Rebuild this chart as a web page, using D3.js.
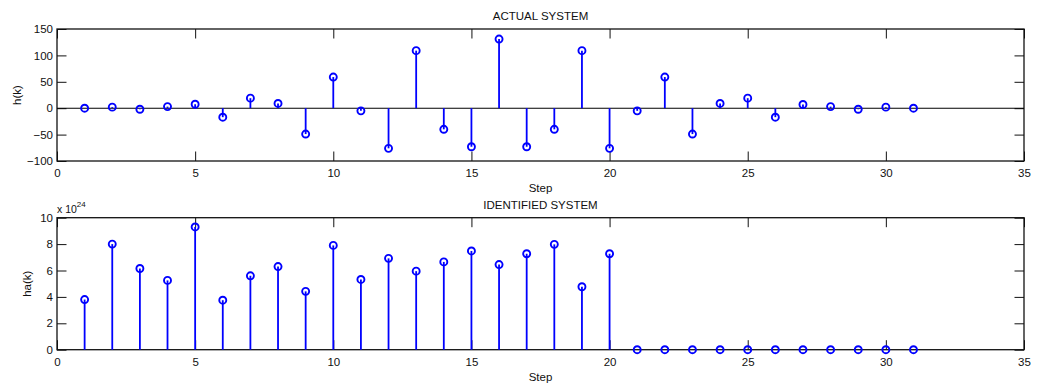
<!DOCTYPE html>
<html>
<head>
<meta charset="utf-8">
<script src="https://cdn.jsdelivr.net/npm/d3@7/dist/d3.min.js"></script>
<style>
  html, body { margin: 0; padding: 0; background: #fff; }
  svg text { font-family: "Liberation Sans", Arial, sans-serif; fill: #111; }
</style>
</head>
<body>
<svg id="chart" width="1040" height="386"></svg>
<script>
// Sample index k for both impulse responses
const steps = [1,2,3,4,5,6,7,8,9,10,11,12,13,14,15,16,17,18,19,20,21,22,23,24,25,26,27,28,29,30,31];

// Actual system impulse response h(k)
const actual = [0, 2, -2, 3, 7.5, -17, 19, 9, -49, 59, -5, -76, 109, -40, -73, 131,
                -73, -40, 109, -76, -5, 59, -49, 9, 19, -17, 7, 3, -2, 2, 0];

// Identified system impulse response ha(k), in units of 1e24
const identified = [3.8, 8.0, 6.15, 5.25, 9.3, 3.75, 5.6, 6.3, 4.42, 7.9, 5.32, 6.92, 5.95, 6.65, 7.48, 6.45,
                    7.27, 7.98, 4.77, 7.27, 0, 0, 0, 0, 0, 0, 0, 0, 0, 0, 0];

const xTicks = [0, 5, 10, 15, 20, 25, 30, 35];
const yTicksTop = [-100, -50, 0, 50, 100, 150];
const yTicksBottom = [0, 2, 4, 6, 8, 10];

const svg = d3.select("#chart");
const FONT = 11.5;
const TICK = 9.5;
const left = 57, right = 1024;

const x = d3.scaleLinear().domain([0, 35]).range([left, right]);

function panel(cfg) {
  const { top, bottom, domain, ticks, data, title, ylabel, ylabelX, baseline } = cfg;
  const y = d3.scaleLinear().domain(domain).range([bottom, top]);
  const g = svg.append("g");

  // axes with inward ticks on all four sides (drawn beneath the data)
  const styleAxis = sel => {
    sel.select(".domain").remove();
    sel.selectAll(".tick line").attr("stroke", "#111").attr("stroke-width", 1);
    sel.selectAll(".tick text").attr("font-size", FONT).attr("fill", "#111")
      .attr("font-family", "Liberation Sans, Arial, sans-serif");
  };

  g.append("g").attr("transform", `translate(0,${bottom})`)
    .call(d3.axisBottom(x).tickValues(xTicks).tickSizeInner(-TICK).tickSizeOuter(0))
    .call(styleAxis)
    .call(s => s.selectAll(".tick text").attr("y", 8).attr("dy", "0.71em"));
  g.append("g").attr("transform", `translate(0,${top})`)
    .call(d3.axisTop(x).tickValues(xTicks).tickSizeInner(-TICK).tickSizeOuter(0).tickFormat(""))
    .call(styleAxis);
  g.append("g").attr("transform", `translate(${left},0)`)
    .call(d3.axisLeft(y).tickValues(ticks).tickSizeInner(-TICK).tickSizeOuter(0).tickPadding(4))
    .call(styleAxis);
  g.append("g").attr("transform", `translate(${right},0)`)
    .call(d3.axisRight(y).tickValues(ticks).tickSizeInner(-TICK).tickSizeOuter(0).tickFormat(""))
    .call(styleAxis);

  // box
  g.append("rect")
    .attr("x", left).attr("y", top)
    .attr("width", right - left).attr("height", bottom - top)
    .attr("fill", "none").attr("stroke", "#111").attr("stroke-width", 1.3);

  // zero line across the axes
  if (baseline) {
    g.append("line")
      .attr("x1", x(0)).attr("x2", x(35))
      .attr("y1", y(0)).attr("y2", y(0))
      .attr("stroke", "#000").attr("stroke-width", 1.1);
  }

  // stems
  g.selectAll("line.stem").data(steps).join("line")
    .attr("class", "stem")
    .attr("x1", d => x(d)).attr("x2", d => x(d))
    .attr("y1", y(0)).attr("y2", (d, i) => y(data[i]))
    .attr("stroke", "#0000ff").attr("stroke-width", 1.8);

  // markers
  g.selectAll("circle.mk").data(steps).join("circle")
    .attr("class", "mk")
    .attr("cx", d => x(d)).attr("cy", (d, i) => y(data[i]))
    .attr("r", 3.5)
    .attr("fill", "none").attr("stroke", "#0000ff").attr("stroke-width", 1.9);

  // title and axis labels
  g.append("text").attr("x", (left + right) / 2).attr("y", top - 9)
    .attr("text-anchor", "middle").attr("font-size", FONT).text(title);
  g.append("text").attr("x", (left + right) / 2).attr("y", bottom + 31)
    .attr("text-anchor", "middle").attr("font-size", FONT).text("Step");
  g.append("text")
    .attr("transform", `translate(${ylabelX},${(top + bottom) / 2}) rotate(-90)`)
    .attr("text-anchor", "middle").attr("font-size", FONT).text(ylabel);
  return { g, y };
}

panel({ top: 29, bottom: 161, domain: [-100, 150], ticks: yTicksTop, data: actual,
        title: "ACTUAL SYSTEM", ylabel: "h(k)", ylabelX: 21, baseline: true });

const p2 = panel({ top: 217.7, bottom: 349.7, domain: [0, 10], ticks: yTicksBottom, data: identified,
        title: "IDENTIFIED SYSTEM", ylabel: "ha(k)", ylabelX: 31, baseline: false });

// exponent multiplier for the lower axes
const ex = p2.g.append("text").attr("x", 57).attr("y", 213).attr("font-size", 10.5);
ex.append("tspan").text("x 10");
ex.append("tspan").attr("dy", -6).attr("font-size", 8).text("24");
</script>
</body>
</html>
